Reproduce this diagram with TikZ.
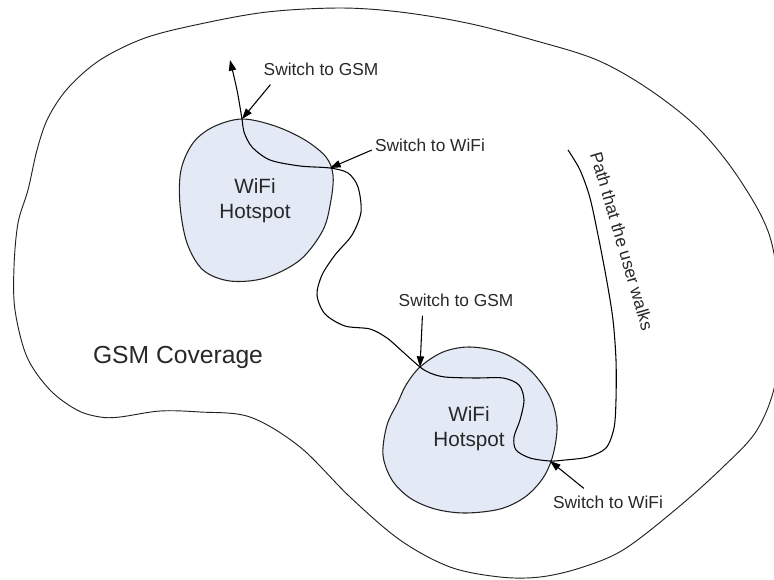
\documentclass[tikz,border=0pt]{standalone}
\usepackage{fontspec}
\setmainfont{Liberation Sans}
\usetikzlibrary{arrows.meta,calc}

\definecolor{hotfill}{RGB}{227,234,246}
\definecolor{ink}{RGB}{34,34,34}
\definecolor{txt}{RGB}{40,40,40}

\tikzset{
  outline/.style={draw=ink, line width=0.7pt},
  hotspot/.style={draw=ink, line width=0.8pt, fill=hotfill},
  walk/.style={draw=black, line width=0.8pt},
  pointer/.style={draw=black, line width=0.8pt, -{Triangle[length=8pt,width=5.5pt]}},
  note/.style={inner sep=0pt, text=txt, font=\fontsize{13}{15}\selectfont},
  spot/.style={inner sep=0pt, text=txt, align=center, font=\fontsize{15.5}{18.7}\selectfont},
  region/.style={inner sep=0pt, text=txt, font=\fontsize{18.5}{22}\selectfont}
}

\begin{document}
\begin{tikzpicture}[x=0.75pt,y=-0.75pt]
\useasboundingbox (0,0) rectangle (774,579);
\clip (0,0) rectangle (774,579);

% GSM coverage area
\draw[outline] plot[smooth cycle, tension=0.55] coordinates {
  (340,8) (400,12) (467,23) (533,40) (597,60) (650,90) (700,130) (740,180)
  (770,237) (780,310) (776,380) (757,430) (722,468) (675,510) (623,550)
  (580,568) (540,577) (500,577) (450,567) (400,540) (350,497) (300,447)
  (250,417) (200,412) (160,411) (120,417) (100,417) (77,410) (50,390)
  (27,357) (15,310) (14,267) (18,223) (28,190) (37,150) (48,118) (68,88)
  (100,60) (145,38) (200,24) (267,12)};

% WiFi hotspots
\draw[hotspot] plot[smooth cycle, tension=0.55] coordinates {
  (242,119) (275,126) (305,140) (326,157) (333,175) (331,200) (323,230)
  (300,260) (265,278) (230,281) (203,270) (187,243) (180,205) (181,170)
  (193,143) (213,127)};
\draw[hotspot] plot[smooth cycle, tension=0.55] coordinates {
  (420,367) (443,352) (470,347) (503,353) (530,370) (550,397) (557,425)
  (553,455) (543,478) (525,497) (500,509) (465,513) (435,509) (410,498)
  (392,480) (383,455) (387,425) (398,402) (406,385)};

% hand-over points on the hotspot borders
\coordinate (toGSMa)  at (242,119);
\coordinate (toWiFia) at (330,168);
\coordinate (toGSMb)  at (420,367);
\coordinate (toWiFib) at (550,461);

% the walk of the user
\draw[walk, -{Triangle[length=8pt,width=5.5pt]}] plot[smooth, tension=0.5] coordinates {
  (568,150) (580,170) (590,198) (599,240) (607,282) (613,320) (616,360)
  (616,400) (614,428) (606,448) (588,457) (565,460) (550,461) (530,458)
  (516,450) (514,437) (520,420) (524,400) (519,385) (503,378) (475,378)
  (445,377) (430,373) (420,367) (403,352) (387,338) (370,329) (345,326)
  (325,314) (317,295) (322,275) (335,255) (352,235) (361,212) (358,187)
  (348,173) (330,168) (300,166) (270,160) (252,147) (244,132) (242,119)
  (237,90) (230,60)};

% labels
\node[note] (gsmA)  at (321,69)  {Switch to GSM};
\node[note] (wifiA) at (430,145) {Switch to WiFi};
\node[note] (gsmB)  at (456,300) {Switch to GSM};
\node[note] (wifiB) at (608,502) {Switch to WiFi};

\node[spot] (hsA) at (255,201) {WiFi\\Hotspot};
\node[spot] (hsB) at (469,429) {WiFi\\Hotspot};
\node[region] (cov) at (178,357) {GSM Coverage};
\node[note, rotate=-73.6] (pathlbl) at (622,241) {Path that the user walks};

% pointers to the hand-over points
\draw[pointer] ($(gsmA.south west)+(7,9)$) -- (toGSMa);
\draw[pointer] ($(wifiA.west)+(-3,5)$) -- (toWiFia);
\draw[pointer] ($(gsmB.south west)+(24,9)$) -- (toGSMb);
\draw[pointer] ($(wifiB.north west)+(31,-7)$) -- (toWiFib);
\end{tikzpicture}
\end{document}
